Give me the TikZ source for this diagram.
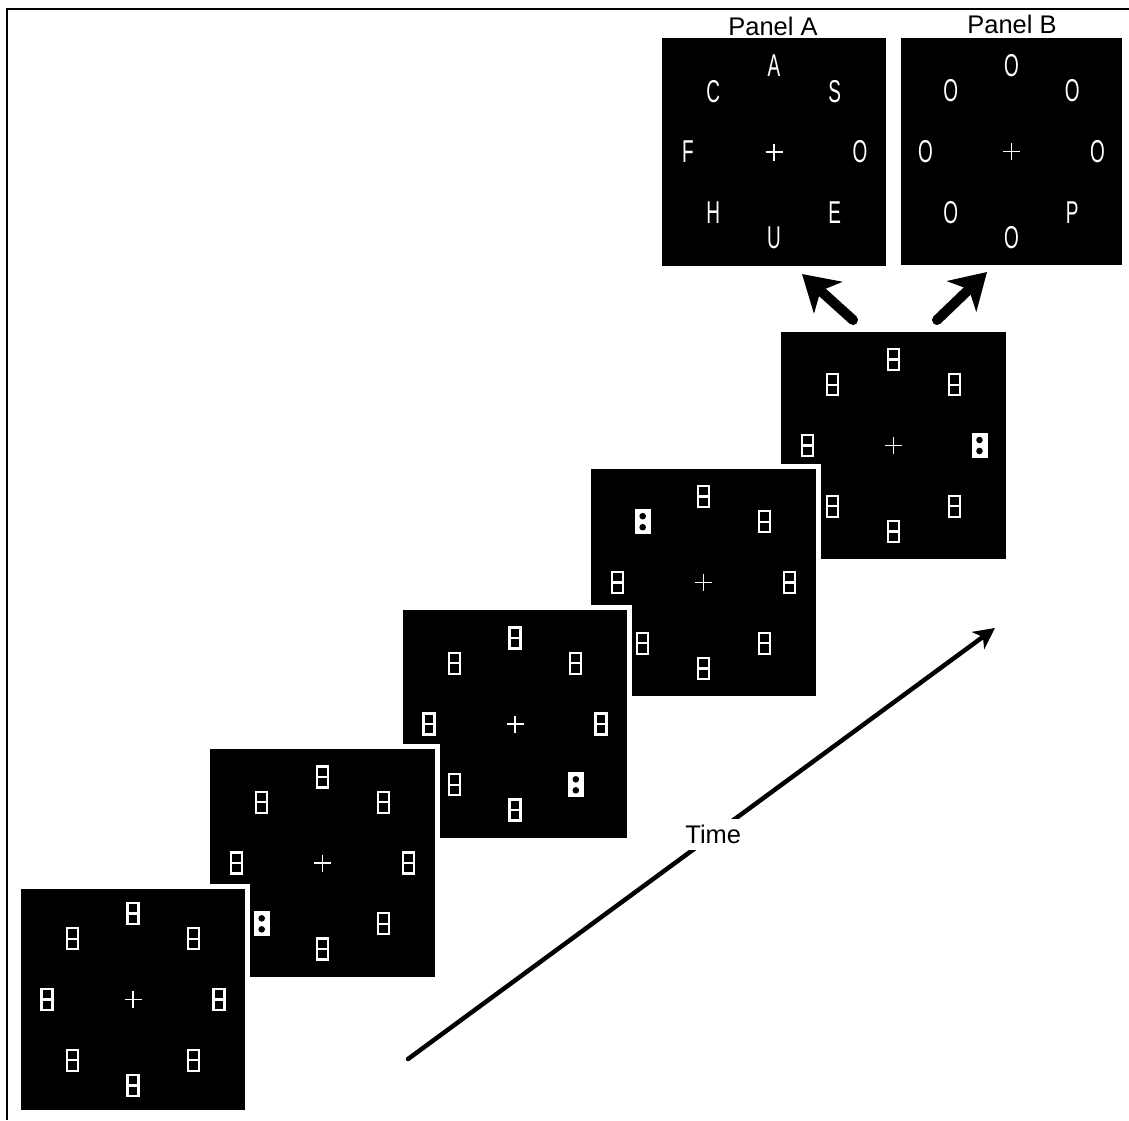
\documentclass[tikz,border=0pt]{standalone}
\usepackage{fontspec}
\setmainfont{Liberation Sans}
\newfontfamily\segfont{Liberation Sans}[FakeStretch=0.6]
\usetikzlibrary{arrows.meta,calc,positioning}
\definecolor{ink}{HTML}{000000}
\definecolor{screenfill}{HTML}{000000}
\definecolor{glyph}{HTML}{FFFFFF}
\tikzset{
  every node/.style={font=\fontsize{14.5}{17}\selectfont, text=ink},
  outerframe/.style={draw=ink, line width=1.7pt},
  screen/.style={rectangle, fill=screenfill, draw=white, line width=2.85pt,
    minimum width=4.6cm, minimum height=4.66cm, inner sep=0pt},
  letter/.style={font=\segfont\fontsize{18}{18}\selectfont, text=glyph,
    inner sep=0pt},
  paneltitle/.style={anchor=base, inner sep=0pt},
  timelabel/.style={fill=white, inner xsep=2pt, inner ysep=3.5pt},
  timeflow/.style={-{Stealth[length=4.2mm,width=4.2mm,inset=1.2mm]},
    draw=ink, line width=2.55pt, line cap=round},
  pickflow/.style={-{Stealth[length=7mm,width=8.4mm,inset=2mm]},
    draw=ink, line width=5.7pt, line cap=round},
  fixation/.pic={\draw[draw=glyph, line width=0.6pt]
    (-8.5,0) -- (8.5,0) (0,-8.5) -- (0,8.5);},
  mask/.pic={\draw[draw=glyph, line width=1.2pt]
    (-5.5,-10.5) rectangle (5.5,10.5) (-5.5,0) -- (5.5,0);},
  cue/.pic={\fill[glyph] (-8,-12.5) rectangle (8,12.5);
    \fill[screenfill] (0,-5.5) circle[radius=0.066cm]
      (0,5.5) circle[radius=0.066cm];}
}

\begin{document}
\begin{tikzpicture}[x=0.02cm,y=-0.02cm]
  \useasboundingbox (0,0) rectangle (1129,1120);
  \draw[outerframe] (7,1120) -- (7,9) -- (1129,9);

  % Displays over time, the latest one drawn first.
  \node[screen] (s5) at (893.5,445.5) {};
  \pic at (s5.center) {fixation};
  \foreach \a in {0,45,...,315} \pic at ($(s5.center)+(-\a:86)$) {mask};
  \pic at ($(s5.center)+(0:86)$) {cue};

  \node[screen] (s4) at (703.5,582.5) {};
  \pic at (s4.center) {fixation};
  \foreach \a in {0,45,...,315} \pic at ($(s4.center)+(-\a:86)$) {mask};
  \pic at ($(s4.center)+(-135:86)$) {cue};

  \node[screen] (s3) at (515,724) {};
  \pic at (s3.center) {fixation};
  \foreach \a in {0,45,...,315} \pic at ($(s3.center)+(-\a:86)$) {mask};
  \pic at ($(s3.center)+(-315:86)$) {cue};

  \node[screen] (s2) at (322.5,863) {};
  \pic at (s2.center) {fixation};
  \foreach \a in {0,45,...,315} \pic at ($(s2.center)+(-\a:86)$) {mask};
  \pic at ($(s2.center)+(-225:86)$) {cue};

  \node[screen, minimum height=4.52cm] (s1) at (133,999.5) {};
  \pic at (s1.center) {fixation};
  \foreach \a in {0,45,...,315} \pic at ($(s1.center)+(-\a:86)$) {mask};

  % Letter displays.
  \node[screen] (pA) at (774,152) {};
  \pic at (pA.center) {fixation};
  \foreach \a/\c in {0/O,45/S,90/A,135/C,180/F,225/H,270/U,315/E}
    \node[letter] (pA-\a) at ($(pA.center)+(-\a:86)$) {\c};
  \node[paneltitle] (titleA) at (773,35) {Panel A};

  \node[screen, minimum width=4.52cm] (pB) at (1011.5,151.5) {};
  \pic at (pB.center) {fixation};
  \foreach \a/\c in {0/O,45/O,90/O,135/O,180/O,225/O,270/O,315/P}
    \node[letter] (pB-\a) at ($(pB.center)+(-\a:86)$) {\c};
  \node[paneltitle] (titleB) at (1012,33) {Panel B};

  % Choice arrows.
  \coordinate (lefttail) at (853,320);
  \coordinate (lefttip) at (802,274);
  \coordinate (righttail) at (937,320);
  \coordinate (righttip) at (987,272);
  \draw[pickflow] (lefttail) -- (lefttip);
  \draw[pickflow] (righttail) -- (righttip);

  % Time axis.
  \coordinate (tstart) at (408,1059);
  \coordinate (tend) at (995,628);
  \draw[timeflow] (tstart) -- node[timelabel, pos=0.52] (timelbl) {Time} (tend);
\end{tikzpicture}
\end{document}
